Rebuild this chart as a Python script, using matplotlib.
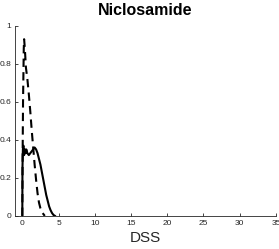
import matplotlib
matplotlib.use("Agg")
import matplotlib.pyplot as plt

# density curves
dash_x = [0.0, 0.05, 0.1, 0.2, 0.25, 0.35, 0.5, 0.7, 0.9, 1.1, 1.3, 1.5, 1.7, 1.9,
          2.1, 2.3, 2.5, 2.7, 2.9, 3.1]
dash_y = [0.0, 0.35, 0.6, 0.88, 0.93, 0.88, 0.78, 0.72, 0.64, 0.55, 0.45, 0.36, 0.27,
          0.19, 0.12, 0.07, 0.04, 0.02, 0.01, 0.0]

solid_x = [0.0, 0.02, 0.08, 0.15, 0.25, 0.35, 0.45, 0.55, 0.7, 0.9, 1.1, 1.3, 1.5, 1.7,
           1.9, 2.1, 2.3, 2.5, 2.7, 2.9, 3.1, 3.3, 3.5, 3.7, 3.9, 4.1, 4.3, 4.5]
solid_y = [0.0, 0.25, 0.35, 0.37, 0.32, 0.35, 0.33, 0.35, 0.33, 0.32, 0.33, 0.34, 0.35,
           0.36, 0.35, 0.33, 0.30, 0.27, 0.23, 0.19, 0.15, 0.11, 0.08, 0.05, 0.03, 0.015,
           0.005, 0.0]

xticks = [0, 5, 10, 15, 20, 25, 30, 35]
yticks = [0, 0.2, 0.4, 0.6, 0.8, 1]
yticklabels = ["0", "0.2", "0.4", "0.6", "0.8", "1"]

plt.rcParams["font.family"] = ["Liberation Sans", "DejaVu Sans"]
grey = "#262626"

fig = plt.figure(figsize=(2.79, 2.49), dpi=100)
ax = fig.add_axes([0.054, 0.133, 0.935, 0.763])
ax.plot(solid_x, solid_y, color="black", lw=1.5)
ax.plot(dash_x, dash_y, color="black", lw=1.5, ls=(0, (4, 2.5)))

ax.set_xlim(-1, 35)
ax.set_ylim(0, 1)
ax.set_xticks(xticks)
ax.set_yticks(yticks)
ax.set_yticklabels(yticklabels)
ax.tick_params(direction="in", length=2.5, width=0.6, labelsize=6, colors=grey, pad=3)
for s in ["top", "right"]:
    ax.spines[s].set_visible(False)
for s in ["left", "bottom"]:
    ax.spines[s].set_linewidth(0.6)
    ax.spines[s].set_color(grey)

ax.set_title("Niclosamide", fontsize=11.5, fontweight="bold", pad=8)
ax.set_xlabel("DSS", fontsize=11, color=grey, labelpad=3)

fig.savefig("out.png", dpi=100)
